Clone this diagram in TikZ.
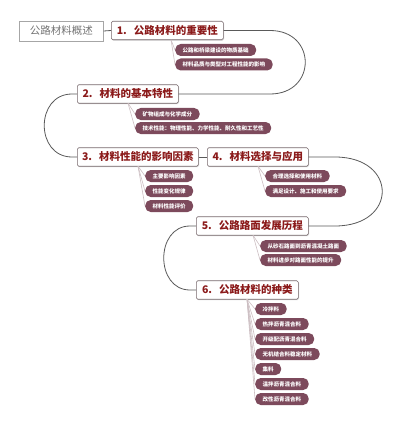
\documentclass[tikz,border=0pt]{standalone}
\usepackage{fontspec}
\setmainfont{Noto Sans CJK SC}
\usetikzlibrary{shadows}
\definecolor{pillc}{HTML}{7D4A5C}
\definecolor{titlec}{HTML}{8B1A1A}
\definecolor{boxc}{HTML}{77686C}
\definecolor{linkc}{HTML}{5A5A5A}
\definecolor{subl}{HTML}{CDBFC3}
\begin{document}
\begin{tikzpicture}[x=1pt,y=-1pt,
  mainbox/.style={draw=boxc, line width=0.6pt, rounded corners=1.5pt, fill=white, anchor=west,
    minimum height=18.5pt, inner xsep=0pt, inner ysep=0pt,
    font=\fontsize{10.5}{12}\selectfont\bfseries, text=titlec,
    drop shadow={shadow xshift=0.7pt, shadow yshift=-0.9pt, fill=black, opacity=0.18}},
  rootbox/.style={draw=black!35, line width=0.6pt, fill=white, anchor=west,
    minimum height=20pt, inner xsep=0pt, inner ysep=0pt,
    font=\fontsize{10.5}{12}\selectfont, text=black!55},
  pill/.style={fill=pillc, text=white, rounded corners=5.5pt, anchor=west,
    minimum height=12pt, inner xsep=7.5pt, inner ysep=0pt,
    font=\fontsize{5.5}{6}\selectfont\bfseries},
  link/.style={draw=linkc, line width=0.8pt},
  sublink/.style={draw=subl, line width=0.6pt}]
\useasboundingbox (0,0) rectangle (400,425);
\fill[white] (0,0) rectangle (400,425);

% main nodes
\node[rootbox, minimum width=84pt] (root) at (19,31) {公路材料概述};
\node[mainbox, minimum width=112pt] (n1) at (111,30.5) {1.\hspace{7pt}公路材料的重要性};
\node[mainbox, minimum width=101pt] (n2) at (77,94) {2.\hspace{7pt}材料的基本特性};
\node[mainbox, minimum width=121pt] (n3) at (77,157) {3.\hspace{7pt}材料性能的影响因素};
\node[mainbox, minimum width=101pt] (n4) at (207,157) {4.\hspace{7pt}材料选择与应用};
\node[mainbox, minimum width=112pt] (n5) at (196,226) {5.\hspace{7pt}公路路面发展历程};
\node[mainbox, minimum width=102pt] (n6) at (196,290) {6.\hspace{7pt}公路材料的种类};

% main connectors
\draw[link] (root.east) -- (n1.west);
\draw[link] (n1.east) -- (270,30.5) .. controls (317,30.5) and (317,94) .. (270,94) -- (n2.east);
\draw[link] (n2.west) -- (72,94) .. controls (35,94) and (35,157) .. (72,157) -- (n3.west);
\draw[link] (n3.east) -- (n4.west);
\draw[link] (n4.east) -- (335,157) .. controls (398,157) and (398,226) .. (335,226) -- (n5.east);
\draw[link] (n5.west) -- (190,226) .. controls (155,226) and (155,290) .. (190,290) -- (n6.west);

% sub roots
\coordinate (r1) at (171,39.8);
\coordinate (r2) at (128,103.2);
\coordinate (r3) at (138,166.2);
\coordinate (r4) at (258,166.2);
\coordinate (r5) at (253,235.2);
\coordinate (r6) at (247,299.2);

% pills
\node[pill] (a1) at (175,50) {公路和桥梁建设的物质基础};
\node[pill] (a2) at (175,64.5) {材料品质与类型对工程性能的影响};
\node[pill] (b1) at (135,114) {矿物组成与化学成分};
\node[pill] (b2) at (135,128) {技术性能：物理性能、力学性能、耐久性和工艺性};
\node[pill] (c1) at (145,176) {主要影响因素};
\node[pill] (c2) at (145,191) {性能变化规律};
\node[pill] (c3) at (145,206) {材料性能评价};
\node[pill] (d1) at (265,176) {合理选择和使用材料};
\node[pill] (d2) at (265,191) {满足设计、施工和使用要求};
\node[pill] (e1) at (260,246) {从砂石路面到沥青混凝土路面};
\node[pill] (e2) at (260,260) {材料进步对路面性能的提升};
\node[pill] (f1) at (255,309) {冷拌料};
\node[pill] (f2) at (255,324) {热拌沥青混合料};
\node[pill] (f3) at (255,339) {开级配沥青混合料};
\node[pill] (f4) at (255,354) {无机结合料稳定材料};
\node[pill] (f5) at (255,369) {集料};
\node[pill] (f6) at (255,384) {温拌沥青混合料};
\node[pill] (f7) at (255,399) {改性沥青混合料};

% sub connectors
\foreach \p in {a1,a2} \draw[sublink] (r1) -- (\p.west);
\foreach \p in {b1,b2} \draw[sublink] (r2) -- (\p.west);
\foreach \p in {c1,c2,c3} \draw[sublink] (r3) -- (\p.west);
\foreach \p in {d1,d2} \draw[sublink] (r4) -- (\p.west);
\foreach \p in {e1,e2} \draw[sublink] (r5) -- (\p.west);
\foreach \p in {f1,f2,f3,f4,f5,f6,f7} \draw[sublink] (r6) -- (\p.west);
\end{tikzpicture}
\end{document}
